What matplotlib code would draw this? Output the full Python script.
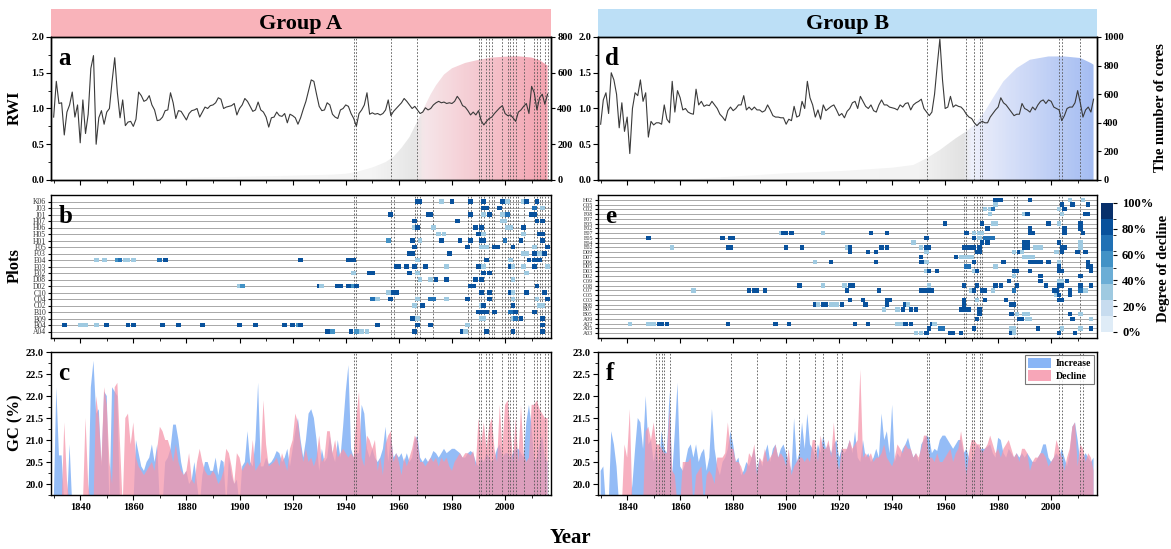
import numpy as np
import matplotlib
matplotlib.use("Agg")
import matplotlib.pyplot as plt
from matplotlib.colors import LinearSegmentedColormap, BoundaryNorm, ListedColormap
from matplotlib.patches import Patch
from matplotlib.ticker import MultipleLocator, FormatStrFormatter
import matplotlib.colorbar as mcolorbar

nan = np.nan

# ---------------- data ----------------
years = list(range(1830, 2017))

rwi_A = [0.88, 1.38, 1.07, 1.08, 0.63, 0.95, 1.05, 1.23, 0.88, 1.05,
         0.52, 1.12, 0.65, 0.92, 1.56, 1.74, 0.50, 0.87, 0.97, 0.78,
         0.95, 1.00, 1.38, 1.71, 1.22, 0.87, 1.12, 0.76, 0.81, 0.82,
         0.75, 0.85, 1.23, 1.18, 1.10, 1.12, 1.18, 1.05, 0.98, 0.83,
         0.84, 0.88, 0.97, 0.98, 1.22, 1.08, 0.86, 0.97, 0.96, 0.90,
         0.84, 0.93, 0.97, 0.98, 1.00, 0.88, 0.95, 1.02, 1.00, 1.04,
         1.05, 1.08, 1.15, 1.13, 1.00, 1.02, 1.03, 1.04, 1.07, 0.91,
         1.00, 1.05, 1.14, 1.10, 1.03, 0.96, 0.98, 1.09, 0.98, 0.95,
         0.88, 0.74, 0.87, 0.88, 0.95, 0.90, 0.89, 0.93, 0.80, 0.92,
         0.90, 0.87, 0.78, 0.87, 0.99, 1.10, 1.25, 1.40, 1.38, 1.20,
         1.03, 0.97, 0.98, 1.08, 1.05, 0.92, 0.88, 0.86, 0.98, 1.00,
         1.05, 1.03, 0.93, 0.86, 0.75, 0.93, 0.98, 1.05, 1.22, 0.92,
         0.94, 0.92, 0.93, 0.91, 0.93, 0.98, 1.12, 0.90, 0.96, 1.00,
         1.04, 1.08, 1.14, 1.10, 1.05, 1.00, 1.03, 0.98, 0.93, 0.95,
         1.01, 0.98, 1.00, 1.05, 1.08, 1.10, 1.08, 1.09, 1.07, 1.08,
         1.07, 1.10, 1.17, 1.12, 1.04, 1.02, 0.97, 0.91, 0.95, 0.91,
         0.97, 0.83, 0.77, 0.82, 0.86, 0.88, 0.93, 0.97, 1.01, 1.04,
         0.93, 0.90, 0.91, 0.87, 0.82, 0.95, 0.98, 1.03, 1.07, 0.93,
         1.31, 1.22, 0.98, 1.15, 1.20, 1.06, 1.20]

rwi_B = [0.78, 1.12, 1.22, 0.93, 1.50, 1.40, 1.20, 0.73, 1.08, 0.68,
         0.88, 0.37, 1.00, 1.22, 1.18, 1.40, 1.10, 1.22, 0.60, 0.82,
         0.77, 0.80, 0.80, 0.78, 1.05, 0.85, 0.80, 1.38, 0.95, 1.25,
         1.15, 0.98, 1.00, 0.95, 0.93, 0.92, 1.27, 1.05, 1.10, 1.03,
         1.05, 1.04, 1.10, 1.05, 1.00, 0.92, 0.88, 0.83, 0.97, 1.02,
         0.97, 1.00, 1.05, 1.05, 1.18, 0.98, 1.02, 0.98, 1.02, 0.98,
         0.98, 0.95, 0.97, 1.05, 0.98, 0.90, 0.88, 0.88, 0.87, 0.87,
         0.78, 0.85, 0.83, 1.03, 0.88, 0.90, 1.10, 1.00, 1.38, 1.15,
         1.05, 0.88, 0.98, 0.85, 1.05, 0.97, 1.00, 1.03, 1.05, 0.98,
         0.90, 0.93, 0.87, 0.96, 1.00, 1.08, 1.10, 1.00, 1.17, 1.10,
         1.03, 1.00, 1.05, 0.97, 0.95, 1.05, 1.12, 1.05, 1.05, 1.02,
         1.01, 1.00, 0.98, 1.05, 1.02, 1.07, 1.08, 0.98, 1.05, 1.08,
         1.10, 1.13, 1.00, 0.95, 0.90, 0.95, 1.20, 1.60, 1.97, 1.40,
         1.00, 1.02, 1.17, 1.02, 1.05, 1.03, 1.02, 0.98, 0.92, 0.88,
         0.86, 0.80, 0.76, 0.80, 0.82, 0.80, 0.80, 0.88, 0.93, 0.98,
         1.02, 1.15, 1.08, 1.05, 1.00, 0.95, 0.90, 0.92, 0.92, 1.07,
         1.00, 0.98, 0.95, 1.02, 0.98, 1.05, 1.10, 1.12, 1.07, 1.12,
         1.10, 1.02, 1.00, 0.98, 0.83, 0.90, 1.00, 1.02, 1.02, 1.08,
         1.25, 1.08, 0.88, 0.98, 1.02, 0.95, 1.13]

cores_A_years = [1830, 1840, 1860, 1880, 1900, 1920, 1935, 1940, 1944, 1950, 1955,
                 1958, 1961, 1964, 1966, 1968, 1970, 1972, 1974, 1977, 1980, 1985,
                 1990, 1995, 2000, 2005, 2010, 2013, 2016]
cores_A = [2, 4, 8, 12, 18, 24, 30, 35, 45, 70, 100, 130, 180, 240, 300, 360, 420,
           480, 530, 590, 625, 655, 672, 685, 690, 692, 685, 670, 640]

cores_B_years = [1858, 1879, 1900, 1921, 1940, 1948, 1953, 1958, 1964, 1968, 1971,
                 1975, 1978, 1982, 1987, 1992, 1999, 2005, 2011, 2015, 2016]
cores_B = [0, 23, 47, 63, 86, 105, 152, 210, 292, 340, 385, 480, 572, 690, 783, 841,
           864, 864, 853, 818, 806]

gc_A_increase = [nan, 22.2, 20.65, 20.65, nan, nan, 20.9, nan, nan, nan,
                 nan, nan, nan, nan, 22.2, 22.8, 21.6, 21.7, 20.4, 22.1,
                 22.0, nan, 22.2, 22.1, 22.0, nan, nan, nan, nan, nan,
                 nan, 21.0, 20.7, 20.4, 20.3, 20.5, 20.6, 20.9, 20.5, 20.9,
                 nan, nan, 20.5, 20.6, 20.8, 21.35, 21.35, 21.0, 20.5, 20.2,
                 20.3, 20.0, 20.1, 20.5, 20.0, nan, 20.2, 20.5, 20.5, 20.3,
                 20.3, 20.6, 20.2, 20.55, 20.5, nan, 20.6, 20.2, 20.0, 20.1,
                 nan, 20.4, 20.5, 21.2, 20.5, 20.4, 21.0, 22.3, 20.4, 20.4,
                 20.6, 20.45, 20.5, 20.6, 20.75, 20.7, 20.5, 20.6, 20.8, 20.4,
                 20.8, 21.2, 21.5, 21.0, 20.6, 21.0, 21.6, 21.7, 21.5, 21.0,
                 20.3, 20.8, 20.5, 20.6, 21.1, 20.7, 20.5, 21.0, 20.6, 21.3,
                 22.1, 22.7, 20.8, 20.6, 20.7, 20.7, 21.8, 21.6, 20.8, 20.6,
                 20.8, 20.6, 20.5, 20.6, 20.8, 21.3, 20.5, 21.1, 20.6, 20.7,
                 20.6, 20.7, 20.5, 20.7, 20.5, 20.6, 21.0, 21.1, 20.6, 20.5,
                 20.6, 20.5, 20.6, 20.75, 20.7, 20.6, 20.7, 20.8, 20.7, 20.75,
                 20.8, 20.8, 20.75, 20.7, 20.6, 20.6, 20.7, 20.75, 20.7, 20.5,
                 20.4, 20.6, 20.5, 20.7, 20.6, 20.5, 20.6, 20.8, 20.9, 20.6,
                 20.7, 20.7, 20.6, 20.7, 20.8, 20.8, 20.7, 20.6, 21.4, 21.8,
                 21.3, 20.5, 20.6, 20.9, 21.1, 20.6, 20.5]

gc_A_decline = [nan, nan, nan, nan, 21.4, 20.1, nan, nan, nan, nan,
                nan, nan, 21.5, 20.0, nan, nan, 22.0, 21.5, 20.5, 22.2,
                21.8, 20.5, 20.0, 22.2, 22.3, 20.9, nan, 21.5, 21.6, 20.9,
                21.4, 20.6, 20.4, 20.3, 20.2, 20.3, 20.4, 20.5, 20.3, 20.8,
                21.3, 21.2, 21.0, 21.0, 20.8, 20.5, 20.9, 20.5, 20.3, 20.2,
                20.3, 20.7, 20.1, 20.0, 20.5, 20.8, 20.5, 20.3, 20.2, 20.2,
                20.3, 20.2, 20.0, 20.1, 20.3, 20.8, 20.7, 20.4, 20.0, 20.7,
                20.6, 20.3, 20.4, 20.5, 20.4, 21.0, 20.3, 20.4, 20.5, 21.9,
                20.9, 20.4, 20.45, 20.5, 20.6, 20.4, 20.7, 20.5, 20.3, 20.8,
                21.0, 21.6, 21.4, 20.9, 20.5, 20.8, 20.5, 20.6, 20.4, 20.6,
                21.1, 20.5, 20.6, 21.2, 21.2, 20.7, 21.0, 20.6, 20.7, 20.8,
                20.7, 20.6, 20.7, 20.6, 21.5, 22.1, 20.6, 20.4, 21.1, 21.0,
                20.8, 21.0, 20.3, 20.6, 20.2, 20.9, 21.1, 21.2, 20.5, 20.7,
                20.5, 20.2, 20.6, 20.4, 20.6, 20.8, 21.1, 21.0, 20.5, 20.5,
                20.4, 20.5, 20.6, 20.5, 20.6, 20.4, 20.6, 20.5, 20.6, 20.4,
                20.3, 20.5, 20.6, 20.7, 20.6, 20.7, 20.7, 20.65, 20.75, 20.4,
                21.5, 20.9, 21.4, 20.8, 21.3, 21.5, 20.8, 20.5, 21.8, 20.8,
                21.8, 21.9, 21.3, 20.5, 21.5, 20.5, 21.8, 20.7, 20.5, 20.6,
                21.8, 21.8, 21.9, 21.7, 21.6, 21.5, 21.5]

gc_B_increase = [20.3, 20.4, nan, nan, 21.2, 20.9, 20.4, nan, nan, nan,
                 nan, nan, 20.0, 20.8, 21.5, 21.4, 20.8, 22.0, 20.9, 21.0,
                 20.5, 20.9, 20.4, 21.2, 20.8, 20.7, 22.1, 20.2, 21.2, 22.3,
                 20.4, 20.3, 20.5, 20.8, 20.9, 20.6, 20.9, 20.5, 20.7, 20.8,
                 20.3, 20.6, 21.7, 20.8, 20.4, 20.2, 20.5, 20.6, 20.8, 21.2,
                 20.9, 20.5, 20.6, 20.2, 20.3, 20.5, 20.4, 20.6, 20.8, 20.3,
                 20.6, 20.4, 20.7, 20.9, 20.5, 20.8, 20.9, 20.6, 20.8, 20.9,
                 20.7, 20.5, 20.3, 21.5, 20.5, 20.7, 21.4, 20.8, 21.6, 20.9,
                 20.8, 20.6, 20.9, 20.7, 21.1, 20.8, 20.9, 20.7, 20.9, 21.0,
                 20.6, 20.8, 20.7, 20.8, 21.0, 20.7, 21.2, 20.6, 20.5, 21.0,
                 20.6, 20.7, 20.5, 20.6, 20.8, 20.6, 21.6, 21.0, 21.2, 20.7,
                 21.8, 20.5, 20.7, 20.6, 20.8, 20.9, 21.05, 20.8, 20.6, 20.7,
                 20.5, 20.9, 21.0, 21.1, 21.05, 20.7, 20.8, 20.75, 21.0, 21.1,
                 21.1, 21.0, 20.9, 20.8, 20.9, 21.0, 21.0, 20.7, 20.8, 20.6,
                 20.5, 20.7, 20.9, 20.8, 20.8, 20.8, 20.85, 20.9, 20.7, 20.6,
                 21.05, 21.0, 20.7, 20.6, 20.8, 20.7, 20.6, 20.7, 20.6, 20.7,
                 20.6, 20.7, 20.6, 20.5, 20.5, 20.6, 20.7, 20.9, 20.9, 20.6,
                 20.5, 20.6, 20.7, 20.6, 20.8, 20.6, 20.4, 20.7, 21.3, 21.4,
                 21.0, 20.5, 20.6, 20.7, 20.6, 20.5, 20.6]

gc_B_decline = [nan, nan, nan, nan, nan, nan, nan, nan, nan, 20.9,
                20.6, 21.7, nan, nan, nan, nan, nan, 21.2, 21.3, 21.0,
                21.4, 20.9, 20.9, 20.8, 20.7, 20.7, 21.7, 20.3, 20.2, nan,
                nan, 20.5, 20.5, 20.5, 20.6, nan, 20.2, 20.3, 20.4, nan,
                20.2, 20.3, 20.2, 20.0, 20.6, 20.6, 20.6, 20.7, 21.4, 20.8,
                20.8, 20.5, 20.5, 20.4, 20.2, 20.3, 20.7, 20.6, 20.9, 20.2,
                20.6, 20.5, 20.8, 20.5, 20.6, 20.7, 20.9, 20.6, 20.7, 20.6,
                20.4, 20.8, 20.2, 20.4, 20.5, 20.6, 20.6, 20.5, 20.6, 20.5,
                21.0, 21.0, 20.5, 21.1, 20.8, 20.8, 21.0, 20.6, 21.4, 20.6,
                20.3, 20.8, 20.8, 20.8, 21.0, 20.8, 20.9, 21.0, 22.6, 20.6,
                20.7, 20.6, 20.7, 20.5, 20.6, 20.6, 20.7, 20.9, 20.6, 20.5,
                20.4, 20.6, 20.9, 20.8, 20.7, 20.9, 20.8, 20.8, 20.6, 20.7,
                20.6, 20.8, 21.1, 21.1, 20.6, 20.6, 20.5, 20.7, 20.5, 20.5,
                20.6, 20.7, 20.8, 20.5, 20.7, 20.8, 21.2, 20.8, 20.2, 20.7,
                21.0, 21.0, 20.9, 20.9, 20.7, 20.8, 20.9, 21.1, 20.9, 20.7,
                20.8, 20.6, 20.8, 20.9, 21.0, 20.8, 20.6, 20.7, 20.5, 20.8,
                20.8, 20.7, 20.3, 20.5, 20.6, 20.6, 20.7, 20.7, 20.6, 20.4,
                20.5, 20.6, 21.0, 20.8, 20.6, 20.3, 20.6, 20.8, 21.3, 21.4,
                20.4, 20.9, 20.8, 20.5, 20.7, 20.6, 20.3]

# decline-event years (dotted lines)
lines_A_top = [1943, 1944, 1957, 1967, 1990, 1991, 1993, 1994, 1995, 1999, 2001,
               2002, 2003, 2004, 2007, 2011, 2012, 2013, 2015, 2016]
lines_A_mid = [1943, 1944, 1957, 1958, 1966, 1967, 1968, 1973, 1986, 1987, 1990,
               1991, 1992, 1994, 1995, 1996, 1999, 2000, 2001, 2002, 2003, 2004,
               2005, 2007, 2011, 2012, 2013, 2014, 2015, 2016]
lines_B_top = [1953, 1968, 1971, 1973, 1974, 2003, 2004, 2011]
lines_B_mid = [1953, 1967, 1968, 1971, 1972, 1973, 1974, 1986, 1987, 2003, 2004, 2011]
lines_B_bot = [1851, 1852, 1853, 1854, 1856, 1879, 1889, 1900, 1905, 1911, 1914,
               1919, 1921, 1953, 1954, 1968, 1970, 1971, 1973, 1974, 2003, 2004,
               2011, 2012]

plots_A = ["K06", "J03", "J01", "H07", "H06", "H05", "H01", "F05", "F03", "E04",
           "E03", "E02", "D08", "D02", "C10", "C04", "C02", "B10", "B09", "B04", "A04"]
decline_A = {
    "K06": [(1967, 80), (1968, 80), (1976, 30), (1980, 80), (1987, 80), (1992, 80), (1999, 80), (2000, 80), (2001, 30), (2007, 30), (2008, 80), (2012, 80)],
    "J03": [(1992, 80), (1993, 80), (1998, 80), (2011, 65), (2014, 30)],
    "J01": [(1957, 80), (1971, 80), (1972, 80), (1987, 80), (1992, 30), (1994, 80), (1999, 30), (2001, 65), (2010, 80), (2011, 80)],
    "H07": [(1966, 80), (1982, 80), (1999, 30), (2000, 30), (2012, 80), (2014, 80)],
    "H06": [(1966, 30), (1967, 80), (1973, 30), (1989, 80), (1991, 80), (2001, 30), (2002, 30), (2007, 80)],
    "H05": [(1975, 30), (1977, 30), (1990, 80), (1992, 30), (2007, 30), (2013, 80), (2014, 80)],
    "H01": [(1956, 55), (1965, 80), (1968, 30), (1976, 80), (1983, 80), (1987, 80), (1991, 80), (1992, 80), (2000, 65), (2006, 80), (2014, 80)],
    "F05": [(1966, 80), (1986, 80), (1991, 30), (1993, 30), (1996, 80), (1997, 80), (2003, 80), (2011, 30), (2016, 80)],
    "F03": [(1964, 80), (1965, 80), (1979, 80), (2007, 30), (2008, 30), (2011, 80), (2013, 30), (2015, 80)],
    "E04": [(1846, 30), (1849, 30), (1854, 55), (1855, 65), (1857, 30), (1858, 30), (1860, 30), (1870, 65), (1872, 80), (1923, 80), (1941, 80), (1943, 80), (1967, 30), (1993, 80), (2002, 30), (2009, 80), (2011, 80), (2013, 80)],
    "E03": [(1959, 80), (1960, 80), (1963, 80), (1966, 80), (1970, 80), (1978, 30), (1990, 80), (1992, 30), (2002, 80), (2003, 30), (2007, 30), (2011, 80), (2016, 30)],
    "E02": [(1943, 30), (1949, 80), (1950, 80), (1964, 80), (1967, 30), (1992, 80), (1994, 80), (2008, 30)],
    "D08": [(1968, 30), (1972, 30), (1974, 80), (1978, 80), (1989, 80), (1991, 80), (2003, 30)],
    "D02": [(1900, 30), (1901, 55), (1930, 80), (1931, 30), (1937, 80), (1938, 80), (1941, 80), (1942, 80), (1943, 55), (1944, 80), (1987, 80), (1988, 80), (2012, 80)],
    "C10": [(1956, 30), (1958, 80), (1959, 80), (1991, 80), (1994, 80), (2002, 80), (2003, 30), (2008, 80), (2015, 80)],
    "C04": [(1950, 65), (1952, 30), (1957, 80), (1967, 30), (1972, 65), (1973, 65), (1978, 30), (1986, 80), (1994, 80), (2003, 30), (2012, 30), (2016, 80)],
    "C02": [(1966, 30), (1969, 80), (1991, 30), (1992, 80), (2003, 80), (2013, 30), (2014, 30)],
    "B10": [(1990, 80), (1991, 80), (1993, 80), (1996, 80), (2002, 65), (2004, 80), (2011, 80)],
    "B09": [(1965, 80), (1967, 30), (1991, 30), (1992, 30), (2003, 30), (2004, 65), (2006, 80), (2014, 80)],
    "B04": [(1834, 80), (1840, 30), (1842, 30), (1846, 30), (1850, 80), (1858, 80), (1860, 80), (1871, 80), (1877, 80), (1886, 80), (1900, 80), (1906, 80), (1917, 80), (1920, 80), (1922, 55), (1923, 80), (1952, 80), (1967, 80), (1972, 80), (1986, 30), (2014, 80)],
    "A04": [(1933, 80), (1935, 55), (1942, 80), (1944, 55), (1946, 30), (1948, 30), (1966, 80), (1984, 80), (1985, 30), (1993, 80), (2003, 80), (2014, 80)],
}

plots_B = ["H02", "G05", "G02", "F08", "F07", "F05", "F02", "E07", "E05", "E04",
           "E02", "D09", "D07", "D06", "D05", "D03", "D02", "C09", "C08", "C07",
           "C05", "C03", "B08", "B07", "B05", "A09", "A07", "A05", "A03"]
decline_B = {
    "H02": [(1979, 80), (1980, 80), (1981, 80), (1992, 80), (2007, 30), (2012, 30)],
    "G05": [(1979, 30), (2004, 80), (2008, 80), (2014, 80)],
    "G02": [(1975, 30), (1977, 30), (1978, 65), (2003, 30), (2005, 80)],
    "F08": [(1977, 30), (1990, 30), (1991, 80), (2004, 30), (2013, 80), (2014, 80)],
    "F07": [],
    "F05": [(1960, 80), (1974, 80), (1978, 30), (1979, 30), (1999, 80), (2003, 30), (2011, 80)],
    "F02": [(1976, 80), (1992, 80), (2005, 80), (2011, 80)],
    "E07": [(1898, 30), (1899, 80), (1900, 80), (1902, 80), (1914, 30), (1932, 80), (1938, 80), (1968, 80), (1971, 30), (1973, 30), (1974, 30), (1992, 80), (1993, 80), (2005, 80), (2012, 80)],
    "E05": [(1848, 80), (1876, 80), (1879, 80), (1880, 80), (1953, 80), (1971, 80), (1973, 30), (1975, 65), (1976, 65), (1977, 65), (1978, 65)],
    "E04": [(1948, 30), (1974, 80), (1976, 80), (1990, 80), (1991, 80), (2003, 80), (2011, 30)],
    "E02": [(1857, 30), (1878, 80), (1879, 80), (1900, 80), (1906, 80), (1923, 30), (1924, 80), (1936, 80), (1938, 80), (1951, 30), (1953, 80), (1954, 80), (1967, 80), (1968, 80), (1970, 80), (1971, 80), (1973, 80), (1990, 80), (1991, 80), (1994, 30), (1995, 30), (1996, 30), (2004, 80), (2005, 80), (2011, 30)],
    "D09": [(1924, 80), (1931, 80), (1934, 80), (1953, 30), (1972, 80), (1973, 80), (1986, 30), (1988, 80), (1989, 30), (2002, 30), (2004, 80), (2010, 80), (2013, 80)],
    "D07": [(1951, 80), (1964, 80), (1966, 30), (1967, 30), (1968, 30), (1969, 30), (1970, 30), (1990, 30), (1991, 30), (1993, 30)],
    "D06": [(1911, 30), (1917, 80), (1934, 80), (1951, 80), (1952, 80), (1953, 30), (1971, 80), (1982, 80), (1992, 80), (1993, 80), (1994, 80), (1995, 80), (1996, 80), (1999, 80), (2003, 30), (2014, 80)],
    "D05": [(1968, 65), (1969, 65), (1979, 30), (2003, 80), (2014, 80), (2015, 80)],
    "D03": [(1953, 30), (1954, 80), (1957, 80), (1971, 30), (1972, 80), (1986, 80), (1987, 80), (1992, 80), (2003, 80), (2004, 80), (2015, 80)],
    "D02": [(1986, 30), (1996, 80), (2011, 80)],
    "C09": [(1984, 80), (1996, 80), (2003, 30), (2004, 30), (2006, 80)],
    "C08": [(1905, 80), (1914, 30), (1922, 30), (1924, 80), (1925, 80), (1954, 30), (1967, 80), (1972, 80), (1979, 80), (1981, 80), (1987, 80), (1998, 80), (2003, 80), (2004, 80), (2011, 80), (2015, 80)],
    "C07": [(1865, 30), (1886, 80), (1888, 80), (1889, 80), (1892, 80), (1923, 80), (1935, 80), (1951, 80), (1952, 80), (1953, 80), (1954, 80), (1955, 80), (1970, 30), (1971, 80), (1974, 80), (1975, 80), (1978, 30), (1986, 65), (2001, 80), (2002, 80), (2007, 80), (2011, 65), (2013, 30)],
    "C05": [(2002, 30), (2003, 80), (2007, 80)],
    "C03": [(1924, 80), (1929, 80), (1938, 80), (1939, 80), (1967, 80), (1972, 30), (1975, 80), (1983, 80), (2003, 80), (2004, 80)],
    "B08": [(1911, 80), (1912, 30), (1914, 80), (1915, 80), (1917, 30), (1918, 30), (1919, 30), (1921, 80), (1930, 80), (1938, 80), (1945, 80), (1946, 30), (1967, 80), (1985, 80), (1986, 80)],
    "B07": [(1937, 30), (1942, 30), (1944, 80), (1947, 80), (1949, 80), (1966, 80), (1967, 80), (1968, 80), (1969, 80), (1973, 80)],
    "B05": [(1973, 80), (1985, 80), (1987, 30), (1990, 30), (1991, 30), (2007, 80), (2011, 30)],
    "A09": [(1972, 80), (1988, 80), (1989, 80), (1991, 30), (1992, 30), (2008, 80), (2015, 30)],
    "A07": [(1841, 30), (1848, 30), (1849, 30), (1850, 30), (1852, 80), (1853, 80), (1855, 80), (1878, 80), (1896, 80), (1901, 80), (1926, 80), (1931, 80), (1942, 30), (1943, 30), (1944, 30), (1945, 80), (1947, 80), (1955, 80), (1956, 30)],
    "A05": [(1954, 80), (1958, 65), (1959, 65), (1971, 80), (1985, 30), (1986, 30), (1995, 80), (2004, 30), (2011, 30), (2015, 80)],
    "A03": [(1949, 30), (1951, 30), (1953, 80), (1962, 80), (1963, 80), (1966, 80), (1985, 80), (1986, 30), (2003, 80), (2009, 80)],
}

# ---------------- style ----------------
plt.rcParams["font.family"] = ["Liberation Serif", "DejaVu Serif"]
plt.rcParams["font.weight"] = "bold"
plt.rcParams["axes.labelweight"] = "bold"
plt.rcParams["axes.linewidth"] = 1.0

W, H = 1171, 549
fig = plt.figure(figsize=(W / 100, H / 100), dpi=100)


def rect(x0, y0, x1, y1):
    return [x0 / W, 1 - y1 / H, (x1 - x0) / W, (y1 - y0) / H]


XLIM = (1829, 2017.3)
blues8 = ListedColormap([plt.cm.Blues(v) for v in np.linspace(0.12, 1.0, 8)])
bnorm = BoundaryNorm(np.linspace(0, 100, 9), 8)
TLS = 7.5


def style_x(ax, labels):
    ax.set_xlim(*XLIM)
    ax.xaxis.set_major_locator(MultipleLocator(20))
    ax.xaxis.set_minor_locator(MultipleLocator(10))
    ax.tick_params(axis="both", which="major", direction="out", length=3.5, width=0.8,
                   labelsize=TLS, pad=2)
    ax.tick_params(axis="both", which="minor", direction="out", length=2, width=0.6)
    if not labels:
        ax.tick_params(axis="x", labelbottom=False)


def vlines(ax, yrs):
    for y in yrs:
        ax.axvline(y, color="#555555", lw=0.6, ls=(0, (2.0, 2.0)), zorder=2)


def header(x0, x1, text, color):
    hx = fig.add_axes(rect(x0, 9, x1, 37))
    hx.set_facecolor(color)
    hx.set_xticks([]); hx.set_yticks([])
    for s in hx.spines.values():
        s.set_visible(False)
    hx.text(0.5, 0.45, text, ha="center", va="center", fontsize=16, fontweight="bold")


def gradient_cmap(nodes):
    t0, t1 = years[0], years[-1]
    return LinearSegmentedColormap.from_list(
        "g", [((y - t0) / (t1 - t0), c) for y, c in nodes])


def top_panel(x0, x1, rwi, cyrs, cores, cmax, lines, letter, cmap):
    ax = fig.add_axes(rect(x0, 37, x1, 180))
    ax2 = ax.twinx()
    ax.set_zorder(3); ax2.set_zorder(2)
    ax.patch.set_visible(False)
    poly = ax2.fill_between(cyrs, 0, cores, facecolor="none", edgecolor="none")
    grad = np.linspace(0, 1, 400).reshape(1, -1)
    im = ax2.imshow(grad, extent=[years[0], years[-1], 0, cmax], aspect="auto",
                    cmap=cmap, origin="lower", zorder=1)
    im.set_clip_path(poly.get_paths()[0], transform=ax2.transData)
    ax2.set_ylim(0, cmax)
    ax2.yaxis.set_major_locator(MultipleLocator(200))
    ax2.tick_params(axis="y", direction="out", length=3, width=0.8, labelsize=TLS, pad=1.5)
    ax.plot(years, rwi, color="#3a3a3a", lw=0.8, zorder=4)
    vlines(ax, lines)
    ax.set_ylim(0, 2.0)
    ax.yaxis.set_major_locator(MultipleLocator(0.5))
    ax.yaxis.set_minor_locator(MultipleLocator(0.25))
    ax.yaxis.set_major_formatter(FormatStrFormatter("%.1f"))
    style_x(ax, False)
    ax.tick_params(axis="y", which="major", pad=1.5)
    ax2.set_xlim(*XLIM)
    ax.text(0.015, 0.93, letter, transform=ax.transAxes, ha="left", va="top",
            fontsize=18, fontweight="bold")
    return ax


def mid_panel(x0, x1, plots, events, lines, letter, msize, lsize):
    ax = fig.add_axes(rect(x0, 195, x1, 338))
    n = len(plots)
    for i in range(n):
        ax.axhline(i, color="#a8a8a8", lw=0.7, zorder=1)
    vlines(ax, lines)
    xs, ys, cs = [], [], []
    for i, p in enumerate(plots):
        for yr, d in events[p]:
            xs.append(yr); ys.append(n - 1 - i); cs.append(d)
    ax.scatter(xs, ys, c=cs, cmap=blues8, norm=bnorm, marker="s", s=msize,
               linewidths=0, zorder=3)
    ax.set_ylim(-1, n)
    ax.set_yticks(range(n))
    ax.set_yticklabels(plots[::-1], fontsize=lsize, fontweight="normal", color="#333333")
    style_x(ax, False)
    ax.tick_params(axis="y", which="major", length=2.5, labelsize=lsize, pad=1)
    ax.text(0.015, 0.93, letter, transform=ax.transAxes, ha="left", va="top",
            fontsize=18, fontweight="bold")
    return ax


def bot_panel(x0, x1, inc, dec, lines, letter, legend):
    ax = fig.add_axes(rect(x0, 352, x1, 495))
    base = 19.5
    inc_v = np.nan_to_num(np.array(inc, dtype=float), nan=base)
    dec_v = np.nan_to_num(np.array(dec, dtype=float), nan=base)
    ax.fill_between(years, base, inc_v, facecolor="#89b5f6", alpha=0.9, lw=0, zorder=1)
    ax.fill_between(years, base, dec_v, facecolor="#f596ab", alpha=0.75, lw=0, zorder=1.5)
    vlines(ax, lines)
    ax.set_ylim(19.75, 23.0)
    ax.yaxis.set_major_locator(MultipleLocator(0.5))
    ax.yaxis.set_minor_locator(MultipleLocator(0.25))
    ax.yaxis.set_major_formatter(FormatStrFormatter("%.1f"))
    style_x(ax, True)
    ax.tick_params(axis="y", which="major", pad=1.5)
    ax.text(0.015, 0.93, letter, transform=ax.transAxes, ha="left", va="top",
            fontsize=18, fontweight="bold")
    if legend:
        hs = [Patch(facecolor="#89b5f6", edgecolor="none", label="Increase"),
              Patch(facecolor="#f7a6b8", edgecolor="none", label="Decline")]
        lg = ax.legend(handles=hs, loc="upper right", fontsize=7, frameon=True,
                       fancybox=False, edgecolor="#555555", borderpad=0.3,
                       handlelength=2.4, handleheight=1.3, labelspacing=0.2,
                       handletextpad=0.5, borderaxespad=0.3)
        lg.get_frame().set_linewidth(0.8)
        for t in lg.get_texts():
            t.set_fontweight("bold")
    return ax


cmap_A = gradient_cmap([(1830, "#fbfbfb"), (1950, "#f4f4f4"), (1966, "#e6e6e6"),
                        (1970, "#f6e6e9"), (2016, "#f3a3b0")])
cmap_B = gradient_cmap([(1830, "#fbfbfb"), (1950, "#f3f3f3"), (1967, "#e2e2e2"),
                        (1970, "#eef0fb"), (2016, "#a5bdf2")])

LX0, LX1 = 51, 551
RX0, RX1 = 598, 1097

header(LX0, LX1, "Group A", "#f9b3ba")
header(RX0, RX1, "Group B", "#bcdff6")

top_panel(LX0, LX1, rwi_A, cores_A_years, cores_A, 800, lines_A_top, "a", cmap_A)
top_panel(RX0, RX1, rwi_B, cores_B_years, cores_B, 1000, lines_B_top, "d", cmap_B)
mid_panel(LX0, LX1, plots_A, decline_A, lines_A_mid, "b", 12, 5.5)
mid_panel(RX0, RX1, plots_B, decline_B, lines_B_mid, "e", 10, 4.2)
bot_panel(LX0, LX1, gc_A_increase, gc_A_decline, lines_A_top, "c", False)
bot_panel(RX0, RX1, gc_B_increase, gc_B_decline, lines_B_bot, "f", True)

# colorbar
cax = fig.add_axes(rect(1101, 203, 1113, 332))
cb = mcolorbar.ColorbarBase(cax, cmap=blues8, norm=bnorm, ticks=[0, 20, 40, 60, 80, 100])
cb.ax.set_yticklabels(["0%", "20%", "40%", "60%", "80%", "100%"])
cb.ax.tick_params(labelsize=9, length=3, width=0.8)
cb.outline.set_visible(False)

# side labels
fig.text(15 / W, 1 - 108 / H, "RWI", rotation=90, ha="center", va="center", fontsize=12)
fig.text(15 / W, 1 - 266 / H, "Plots", rotation=90, ha="center", va="center", fontsize=12)
fig.text(15 / W, 1 - 423 / H, "GC (%)", rotation=90, ha="center", va="center", fontsize=12)
fig.text(1161 / W, 1 - 108 / H, "The number of cores", rotation=90, ha="center",
         va="center", fontsize=10.5)
fig.text(1163 / W, 1 - 268 / H, "Degree of decline", rotation=90, ha="center",
         va="center", fontsize=10.5)
fig.text(570 / W, 1 - 538 / H, "Year", ha="center", va="center", fontsize=15)

fig.savefig("out.png", dpi=100)
